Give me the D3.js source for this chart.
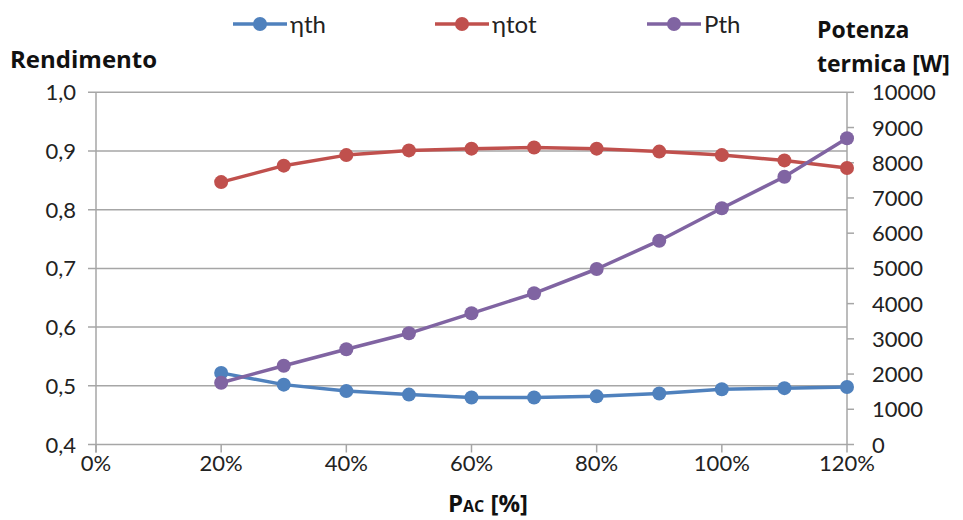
<!DOCTYPE html>
<html><head><meta charset="utf-8">
<script src="https://cdn.jsdelivr.net/npm/d3@7"></script>
<style>
body{margin:0;background:#fff;}
text{font-family:Lato,"Open Sans",sans-serif;fill:#222;}
text.title{font-family:"Open Sans",Lato,sans-serif;font-weight:bold;fill:#111;}
</style></head>
<body><svg id="c" width="963" height="520"></svg>
<script>
const xValues = [0.2,0.3,0.4,0.5,0.6,0.7,0.8,0.9,1.0,1.1,1.2];
const etaTh  = [0.522,0.502,0.491,0.485,0.480,0.480,0.482,0.487,0.494,0.496,0.498];
const etaTot = [0.847,0.875,0.893,0.901,0.904,0.906,0.904,0.899,0.893,0.884,0.871];
const pTh    = [1755,2237,2703,3157,3725,4293,4983,5787,6706,7604,8694];
const xTicks = [0,0.2,0.4,0.6,0.8,1.0,1.2];
const leftTicks = [0.4,0.5,0.6,0.7,0.8,0.9,1.0];
const rightTicks = [0,1000,2000,3000,4000,5000,6000,7000,8000,9000,10000];
const seriesNames = ["ηth","ηtot","Pth"];
const colors = ["#4F81BD","#C0504D","#8064A2"];

const svg = d3.select("#c");
const L=96, R=847, T=92.3, B=444.5;
const x = d3.scaleLinear().domain([0,1.2]).range([L,R]);
const yL = d3.scaleLinear().domain([0.4,1.0]).range([B,T]);
const yR = d3.scaleLinear().domain([0,10000]).range([B,T]);
const grid="#a6a6a6";
const fs=22;

// gridlines
svg.append("g").selectAll("line").data(leftTicks).join("line")
  .attr("x1",L-8).attr("x2",R).attr("y1",d=>yL(d)).attr("y2",d=>yL(d))
  .attr("stroke",grid).attr("stroke-width",1.5);
// left axis line
svg.append("line").attr("x1",L).attr("x2",L).attr("y1",T).attr("y2",B+8).attr("stroke",grid).attr("stroke-width",1.5);
// right axis
svg.append("line").attr("x1",R).attr("x2",R).attr("y1",T).attr("y2",B).attr("stroke",grid).attr("stroke-width",1.5);
svg.append("g").selectAll("line").data(rightTicks).join("line")
  .attr("x1",R).attr("x2",R+7).attr("y1",d=>yR(d)).attr("y2",d=>yR(d))
  .attr("stroke",grid).attr("stroke-width",1.5);
// x ticks
svg.append("g").selectAll("line").data(xTicks).join("line")
  .attr("x1",d=>x(d)).attr("x2",d=>x(d)).attr("y1",B).attr("y2",B+8)
  .attr("stroke",grid).attr("stroke-width",1.5);

// tick labels
const fmtL = d=>d3.format(".1f")(d).replace(".",",");
svg.append("g").selectAll("text").data(leftTicks).join("text")
  .attr("x",76).attr("y",d=>yL(d)+8).attr("text-anchor","end").attr("font-size",fs).text(fmtL);
svg.append("g").selectAll("text").data(rightTicks).join("text")
  .attr("x",872).attr("y",d=>yR(d)+8).attr("text-anchor","start").attr("font-size",fs).text(d=>d);
svg.append("g").selectAll("text").data(xTicks).join("text")
  .attr("x",d=>x(d)).attr("y",471).attr("text-anchor","middle").attr("font-size",fs).text(d=>Math.round(d*100)+"%");

// titles
svg.append("text").attr("class","title").attr("x",10).attr("y",68).attr("font-size",24).text("Rendimento");
svg.append("text").attr("class","title").attr("x",817).attr("y",38).attr("font-size",23).text("Potenza");
svg.append("text").attr("class","title").attr("x",817).attr("y",72).attr("font-size",23).text("termica [W]");
const xt = svg.append("text").attr("class","title").attr("x",488).attr("y",512).attr("text-anchor","middle").attr("font-size",24);
xt.append("tspan").text("P");
xt.append("tspan").attr("font-size",16).text("AC");
xt.append("tspan").text(" [%]");

// series
const data = [etaTh, etaTot, pTh];
const scales = [yL, yL, yR];
data.forEach((vals,i)=>{
  const pts = xValues.map((xv,j)=>[x(xv), scales[i](vals[j])]);
  svg.append("path").attr("d", d3.line()(pts)).attr("fill","none")
    .attr("stroke",colors[i]).attr("stroke-width",3.5).attr("stroke-linejoin","round");
  svg.append("g").selectAll("circle").data(pts).join("circle")
    .attr("cx",d=>d[0]).attr("cy",d=>d[1]).attr("r",7).attr("fill",colors[i]);
});

// legend
const legX = [233, 435, 647];
seriesNames.forEach((n,i)=>{
  const g = svg.append("g").attr("transform",`translate(${legX[i]},24)`);
  g.append("line").attr("x1",0).attr("x2",54).attr("y1",0).attr("y2",0).attr("stroke",colors[i]).attr("stroke-width",3.5);
  g.append("circle").attr("cx",27).attr("cy",0).attr("r",7).attr("fill",colors[i]);
  g.append("text").attr("x",57).attr("y",9).attr("font-size",24).text(n);
});
</script></body></html>
